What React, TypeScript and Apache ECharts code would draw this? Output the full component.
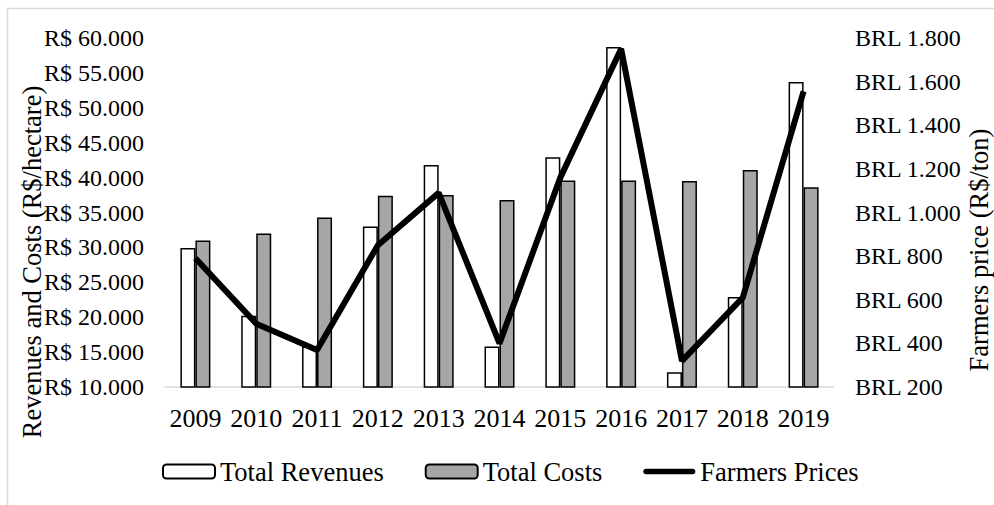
import React, { useEffect, useRef } from "react";
import * as echarts from "echarts";

const years = ["2009", "2010", "2011", "2012", "2013", "2014", "2015", "2016", "2017", "2018", "2019"];
const totalRevenues = [29900, 20200, 15800, 33000, 41800, 15800, 42900, 58700, 12100, 22900, 53700];
const totalCosts = [31000, 32000, 34300, 37400, 37500, 36800, 39600, 39600, 39500, 41100, 38600];
const farmersPrices = [790, 490, 370, 850, 1090, 400, 1160, 1750, 320, 610, 1555];

const FONT = '"Liberation Serif", "Times New Roman", serif';

function fmtThousands(v: number): string {
  return String(Math.round(v)).replace(/\B(?=(\d{3})+(?!\d))/g, ".");
}

export default function App() {
  const ref = useRef<HTMLDivElement>(null);
  useEffect(() => {
    if (!ref.current) return;
    const chart = echarts.init(ref.current, null, { renderer: "svg" });
    const textStyle = { fontFamily: FONT, fontSize: 24, color: "#000" };
    chart.setOption({
      animation: false,
      backgroundColor: "#fff",
      textStyle: { fontFamily: FONT },
      grid: { left: 165, right: 160, top: 38, bottom: 118, containLabel: false },
      legend: {
        left: 157,
        top: 453,
        itemWidth: 52,
        itemHeight: 14,
        itemGap: 41,
        textStyle: { fontFamily: FONT, fontSize: 26.5, color: "#000" },
        data: [
          { name: "Total Revenues" },
          { name: "Total Costs" },
          {
            name: "Farmers Prices",
            icon: "path://M3,0 L54,0 A3,3 0 0 1 54,6 L3,6 A3,3 0 0 1 3,0 Z",
            itemStyle: { color: "#000", borderWidth: 0 },
          },
        ],
      },
      xAxis: {
        type: "category",
        data: years,
        axisLine: { lineStyle: { color: "#d9d9d9", width: 1.5 } },
        axisTick: { show: false },
        axisLabel: { fontFamily: FONT, fontSize: 26, color: "#000", margin: 18, interval: 0 },
      },
      yAxis: [
        {
          type: "value",
          min: 10000,
          max: 60000,
          interval: 5000,
          splitLine: { show: false },
          axisLine: { show: false },
          axisTick: { show: false },
          axisLabel: { ...textStyle, margin: 21, formatter: (v: number) => "R$ " + fmtThousands(v) },
        },
        {
          type: "value",
          min: 200,
          max: 1800,
          interval: 200,
          position: "right",
          splitLine: { show: false },
          axisLine: { show: false },
          axisTick: { show: false },
          axisLabel: { ...textStyle, margin: 21, formatter: (v: number) => "BRL " + fmtThousands(v) },
        },
      ],
      series: [
        {
          name: "Total Revenues",
          type: "bar",
          data: totalRevenues,
          barWidth: 15,
          barGap: "0%",
          itemStyle: { color: "#ffffff", borderColor: "#000", borderWidth: 1.5 },
          z: 2,
        },
        {
          name: "Total Costs",
          type: "bar",
          data: totalCosts,
          barWidth: 15,
          itemStyle: { color: "#a6a6a6", borderColor: "#000", borderWidth: 1.5 },
          z: 2,
        },
        {
          name: "Farmers Prices",
          type: "line",
          yAxisIndex: 1,
          data: farmersPrices,
          symbol: "none",
          lineStyle: { color: "#000", width: 6 },
          itemStyle: { color: "#000" },
          z: 5,
        },
      ],
      graphic: [
        {
          type: "rect",
          shape: { x: 7.5, y: 8.5, width: 1000, height: 510 },
          style: { fill: "none", stroke: "#d9d9d9", lineWidth: 1.5 },
          silent: true,
          z: -1,
        },
        {
          type: "text",
          x: 32,
          y: 262,
          rotation: Math.PI / 2,
          style: {
            text: "Revenues and Costs (R$/hectare)",
            font: `26.5px ${FONT}`,
            fill: "#000",
            align: "center",
            verticalAlign: "middle",
          },
        },
        {
          type: "text",
          x: 979,
          y: 250,
          rotation: Math.PI / 2,
          style: {
            text: "Farmers price (R$/ton)",
            font: `26.5px ${FONT}`,
            fill: "#000",
            align: "center",
            verticalAlign: "middle",
          },
        },
      ],
    });
    return () => chart.dispose();
  }, []);
  return (
    <div
      ref={ref}
      style={{ position: "fixed", left: 0, top: 0, width: 994, height: 505 }}
    />
  );
}
